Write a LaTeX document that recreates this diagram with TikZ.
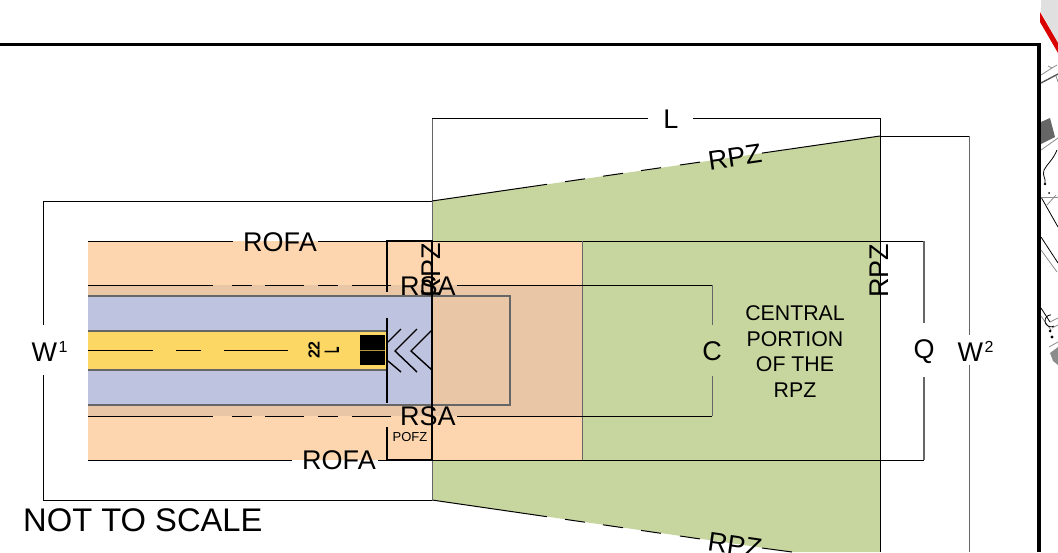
\documentclass[tikz,border=0pt]{standalone}
\usepackage{fontspec}
\setmainfont{Liberation Sans}
\definecolor{cOrange}{HTML}{FDD6B0}
\definecolor{cTan}{HTML}{E9C7A6}
\definecolor{cBlue}{HTML}{BEC3E0}
\definecolor{cYellow}{HTML}{FDD764}
\definecolor{cGreen}{HTML}{C7D59F}
\definecolor{cEdge}{HTML}{666666}
\newcommand{\fsz}[1]{\fontsize{#1}{#1}\selectfont}
\tikzset{
  ln/.style={draw=black,line width=1pt},
  gln/.style={draw=black!60,line width=1pt},
  edgeln/.style={draw=cEdge,line width=1.2pt},
  heavy/.style={draw=black,line width=2.2pt},
  frameln/.style={draw=black,line width=3.6pt},
  lab/.style={inner sep=0pt,font=\fsz{27}},
  mapk/.style={draw=black,line width=.8pt},
  mapg/.style={draw=black!45,line width=.8pt},
}
\begin{document}
\begin{tikzpicture}[x=1pt,y=-1pt]
\useasboundingbox (0,0) rectangle (1058,552);
% fills
\fill[cGreen] (432,201) -- (880,136) -- (880,552) -- (792,552) -- (432,500) -- cycle;
\fill[cOrange] (88,241) rectangle (582,460);
\fill[cTan] (88,285) rectangle (582,416);
\fill[cBlue] (88,296) rectangle (432,405);
\fill[cYellow] (88,331) rectangle (387,370);
% W1 bracket
\draw[ln] (43,325) -- (43,201) -- (432,201);
\draw[ln] (43,375) -- (43,500) -- (432,500);
% L bracket and RPZ
\draw[gln] (432,201) -- (432,118);
\draw[ln] (432,118) -- (648,118);
\draw[ln] (693,118) -- (880,118) -- (880,552);
\draw[ln] (880,136) -- (969,136);
\draw[gln] (969,136) -- (969,335);
\draw[gln] (969,365) -- (969,552);
% RPZ edges
\draw[ln] (432,201) -- (547,184.3);
\draw[ln] (565,181.7) -- (585,178.8);
\draw[ln] (603,176.2) -- (623,173.3);
\draw[ln] (641,170.6) -- (661,167.7);
\draw[ln] (680,165) -- (700,162.1);
\draw[ln] (762,153.1) -- (880,136);
\draw[ln] (432,500) -- (547,516.7);
\draw[ln] (565,519.3) -- (585,522.2);
\draw[ln] (603,524.8) -- (623,527.7);
\draw[ln] (641,530.4) -- (661,533.3);
\draw[ln] (680,536) -- (700,538.9);
\draw[ln] (762,548) -- (792,552);
\draw[gln] (432,201) -- (432,500);
% ROFA, Q bracket
\draw[ln] (88,241) -- (233,241);
\draw[ln] (318,241) -- (924,241);
\draw[ln] (88,460) -- (292,460);
\draw[ln] (378,460) -- (924,460);
\draw[gln,line width=1.2pt] (924,241) -- (924,323);
\draw[gln,line width=1.2pt] (924,377) -- (924,460);
\draw[cEdge,line width=.8pt] (582,241) -- (582,460);
% RSA, C bracket
\foreach \yy in {285,416}{
  \draw[ln] (88,\yy) -- (213,\yy);
  \draw[ln] (232,\yy) -- (252,\yy);
  \draw[ln] (265,\yy) -- (304,\yy);
  \draw[ln] (318,\yy) -- (338,\yy);
  \draw[ln] (352,\yy) -- (391,\yy);
  \draw[ln] (457,\yy) -- (712,\yy);
}
\draw[gln] (712,285) -- (712,325);
\draw[gln] (712,376) -- (712,416);
% runway and safety area edges
\draw[edgeln] (88,296) -- (510,296) -- (510,405) -- (88,405);
\draw[edgeln] (88,331) -- (387,331);
\draw[edgeln] (88,370) -- (387,370);
% centreline
\draw[ln] (88,350) -- (153,350);
\draw[ln] (176,350) -- (201,350);
\draw[ln] (224,350) -- (288,350);
% threshold
\fill[black] (360,335) rectangle (385,365);
\draw[cYellow!70!black,line width=.6pt] (360,350) -- (385,350);
% chevrons
\draw[ln,line width=1.4pt] (401,329) -- (388,342);
\draw[ln,line width=1.4pt] (401,372) -- (388,361);
\draw[ln,line width=1.4pt] (417,329) -- (395,351) -- (417,372);
\draw[ln,line width=1.4pt] (432,330) -- (411,351) -- (432,370);
% POFZ outline
\draw[heavy] (387,292) -- (387,241) -- (432,241) -- (432,460) -- (387,460) -- (387,427);
\draw[heavy] (387,318) -- (387,403);
% frame
\draw[frameln] (0,44.6) -- (1039,44.6) -- (1039,552);
% map sliver
\fill[black!12] (1041,0) -- (1041,12) -- (1058,43) -- (1058,0) -- cycle;
\fill[red!85!black] (1040,12) -- (1058,43) -- (1058,53) -- (1040,22) -- cycle;
\draw[mapg] (1041,75) -- (1052,68) -- (1057,65);
\draw[mapg] (1048,66) -- (1052,68);
\draw[draw=black!65,line width=1.4pt] (1041,83) -- (1058,74);
\draw[mapg] (1056,76) -- (1058,82);
\fill[black!60] (1041,122) -- (1050,118) -- (1055,137) -- (1041,144) -- cycle;
\draw[mapg] (1041,150) -- (1058,138);
\draw[mapk] (1057,150) .. controls (1053,160) and (1047,164) .. (1044,170) .. controls (1042,176) and (1046,178) .. (1045,183);
\fill (1045,184) circle (1.4);
\fill (1049,193) circle (1);
\draw[mapk] (1041,197) -- (1058,227);
\draw[mapg] (1041,197) -- (1058,197);
\draw[mapg] (1047,205) -- (1056,195);
\draw[mapk] (1041,237) -- (1058,263);
\draw[mapg] (1041,250) -- (1057,272);
\draw[mapk] (1041,308) -- (1050,322);
\draw[mapg] (1041,316) -- (1051,330);
\draw[mapg] (1050,322) -- (1058,318);
\draw[mapg] (1052,328) -- (1058,325);
\draw[mapk] (1054,326) arc (60:270:6);
\fill (1050,331) circle (1.5);
\draw[mapk] (1052,337) circle (1);
\fill[black!45] (1050,353) -- (1058,347) -- (1058,365) -- (1053,361) -- cycle;
\draw[mapg] (1049,347) -- (1058,342);
% labels
\node[lab] (rofaTop) at (280,242.5) {ROFA};
\node[lab] (rofaBot) at (339,460.5) {ROFA};
\node[lab,rotate=90] (rpzLeft) at (431,270) {RPZ};
\node[lab] (rsaTop) at (428,286) {RSA};
\node[lab] (rsaBot) at (428,416) {RSA};
\node[inner sep=0pt,font=\fsz{13}] (pofz) at (410,437) {POFZ};
\node[lab] (lenL) at (671,119) {L};
\node[lab,rotate=8.3] (rpzTop) at (735,157) {RPZ};
\node[lab,rotate=-8.3] (rpzBot) at (735,545) {RPZ};
\node[lab,rotate=90] (rpzRight) at (879,270.5) {RPZ};
\node[lab] (widthC) at (712,351) {C};
\node[lab] (widthQ) at (924,352) {Q};
\node[lab] (widthA) at (49.5,351) {W\kern1.5pt\raisebox{9pt}{\fsz{16}1}};
\node[lab] (widthB) at (975.5,351) {W\kern1.5pt\raisebox{9pt}{\fsz{16}2}};
\node[inner sep=0pt,font=\fontsize{21.3}{25.4}\selectfont,align=center] (central) at (795,351.5) {CENTRAL\\PORTION\\OF THE\\RPZ};
\node[inner sep=0pt,font=\fsz{32.7},anchor=west] (scaleNote) at (23,520) {NOT TO SCALE};
\node[inner sep=0pt,font=\bfseries\fsz{16},rotate=90] (rwyNum) at (314,350) {22};
\node[inner sep=0pt,font=\bfseries\fsz{21},rotate=90] (rwyLet) at (332,350) {\scalebox{0.5}[1]{L}};
\end{tikzpicture}
\end{document}
